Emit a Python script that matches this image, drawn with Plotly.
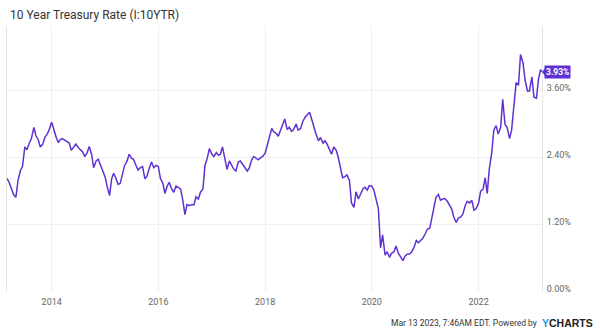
import pandas as pd
import plotly.graph_objects as go

# 10-year Treasury rate, sampled on the 1st and 15th of each month (%)
rate_2013 = [2.03, 1.96, 1.84, 1.74, 1.69, 1.99, 2.17, 2.24, 2.59, 2.54,
             2.66, 2.74, 2.94, 2.79, 2.72, 2.59, 2.64, 2.76, 2.82, 2.90]
rate_2014 = [3.03, 2.89, 2.76, 2.67, 2.72, 2.74, 2.71, 2.68, 2.66, 2.53, 2.59, 2.64,
             2.58, 2.54, 2.50, 2.42, 2.49, 2.60, 2.46, 2.22, 2.34, 2.37, 2.26, 2.14]
rate_2015 = [2.06, 1.89, 1.72, 2.02, 2.12, 2.04, 1.92, 1.94, 2.14, 2.26, 2.34, 2.46,
             2.39, 2.37, 2.26, 2.18, 2.22, 2.24, 2.02, 2.07, 2.22, 2.32, 2.22, 2.26]
rate_2016 = [2.24, 2.03, 1.94, 1.76, 1.89, 1.96, 1.84, 1.78, 1.89, 1.86, 1.84, 1.66,
             1.38, 1.56, 1.54, 1.56, 1.56, 1.70, 1.66, 1.78, 1.84, 2.26, 2.39, 2.56]
rate_2017 = [2.46, 2.42, 2.49, 2.44, 2.46, 2.59, 2.39, 2.19, 2.34, 2.26, 2.19, 2.16,
             2.32, 2.34, 2.28, 2.24, 2.16, 2.22, 2.36, 2.42, 2.39, 2.36, 2.40, 2.42]
rate_2018 = [2.48, 2.62, 2.79, 2.92, 2.86, 2.84, 2.78, 2.89, 3.00, 3.09, 2.90, 2.94,
             2.87, 2.90, 3.00, 2.89, 2.92, 3.04, 3.12, 3.17, 3.21, 3.09, 2.92, 2.82]
rate_2019 = [2.70, 2.76, 2.66, 2.70, 2.64, 2.56, 2.46, 2.59, 2.54, 2.42, 2.17, 2.04,
             2.06, 2.09, 1.99, 1.59, 1.51, 1.79, 1.66, 1.74, 1.84, 1.87, 1.82, 1.90]
rate_2020 = [1.89, 1.82, 1.62, 1.49, 0.79, 1.02, 0.66, 0.72, 0.62, 0.69, 0.72, 0.82,
             0.69, 0.64, 0.56, 0.64, 0.68, 0.68, 0.72, 0.79, 0.92, 0.88, 0.92, 0.96]
rate_2021 = [1.04, 1.12, 1.14, 1.34, 1.49, 1.69, 1.74, 1.64, 1.66, 1.67, 1.62, 1.54,
             1.48, 1.34, 1.24, 1.32, 1.34, 1.39, 1.54, 1.62, 1.59, 1.64, 1.46, 1.49]
rate_2022 = [1.59, 1.80, 1.84, 2.04, 1.76, 2.19, 2.49, 2.89, 2.97, 2.82, 2.94, 3.44,
             2.99, 2.94, 2.74, 2.89, 3.34, 3.74, 3.69, 4.24, 4.09, 3.79, 3.59, 3.59]
rate_2023 = [3.84, 3.48, 3.46, 3.80, 3.97]
last_date = "2023-03-10"
last_rate = 3.93

y_tick_vals = [0.0, 1.2, 2.4, 3.6]
y_tick_text = ["0.00%", "1.20%", "2.40%", "3.60%"]
x_tick_years = ["2014", "2016", "2018", "2020", "2022"]

dates = list(pd.date_range("2013-03-01", "2023-03-01", freq="SMS")) + [pd.Timestamp(last_date)]
rates = (rate_2013 + rate_2014 + rate_2015 + rate_2016 + rate_2017 + rate_2018
         + rate_2019 + rate_2020 + rate_2021 + rate_2022 + rate_2023 + [last_rate])

LINE = "#6031d2"
GRID = "#efefef"
TICK = "#666666"
FONT = "Roboto"

fig = go.Figure()
fig.add_trace(go.Scatter(
    x=dates, y=rates, mode="lines",
    line=dict(color=LINE, width=1.5),
    hoverinfo="skip", showlegend=False,
))

fig.update_layout(
    width=600, height=334,
    margin=dict(l=7, r=58, t=26, b=42),
    paper_bgcolor="white", plot_bgcolor="white",
    font=dict(family=FONT, color=TICK, size=9),
    xaxis=dict(
        type="date",
        range=["2013-03-01", "2023-03-11"],
        tickvals=[f"{y}-01-01" for y in x_tick_years],
        ticktext=x_tick_years,
        showgrid=True, gridcolor=GRID, gridwidth=1,
        zeroline=False, showline=False, ticks="",
        ticklabelstandoff=3,
        tickfont=dict(size=9, color=TICK, family=FONT),
    ),
    yaxis=dict(
        side="right",
        range=[0, 4.75],
        tickvals=y_tick_vals, ticktext=y_tick_text,
        showgrid=True, gridcolor=GRID, gridwidth=1,
        zeroline=False, showline=True, mirror=True,
        linecolor="#e4e4e4", linewidth=1, ticks="",
        ticklabelstandoff=2, ticklabelshift=-3,
        tickfont=dict(size=9, color=TICK, family=FONT),
    ),
)

# chart title
fig.add_annotation(
    text="10 Year Treasury Rate (I:10YTR)",
    xref="paper", yref="paper", x=0.002, y=1.041,
    xanchor="left", yanchor="middle", showarrow=False,
    font=dict(size=12, color="#333333", family=FONT),
)

# latest value flag on the right axis
fig.add_shape(
    type="path", xref="paper", yref="y",
    xsizemode="pixel", ysizemode="pixel",
    xanchor=1, yanchor=last_rate,
    path="M0,0 L4,5 L4,-5 Z",
    fillcolor=LINE, line=dict(width=0),
)
fig.add_annotation(
    text=f"<b>{last_rate:.2f}%</b>",
    xref="paper", yref="y", x=1, y=last_rate,
    xanchor="left", yanchor="middle", xshift=2, showarrow=False,
    bgcolor=LINE, borderpad=1,
    font=dict(size=8.5, color="white", family=FONT),
)

# footer timestamp and logo
fig.add_annotation(
    text="Mar 13 2023, 7:46AM EDT. Powered by",
    xref="paper", yref="paper", x=0.9944, y=-0.1165,
    xanchor="right", yanchor="middle", showarrow=False,
    font=dict(size=8.5, color="#333333", family=FONT),
)
fig.add_annotation(
    text="<span style='color:#1e9ad6'>Y</span>CHARTS",
    xref="paper", yref="paper", x=0.9963, y=-0.1165,
    xanchor="left", yanchor="middle", showarrow=False,
    font=dict(size=10.5, color="#222222", family="Liberation Sans", weight="bold"),
)

fig.write_html("out.html", config={"displayModeBar": False})
